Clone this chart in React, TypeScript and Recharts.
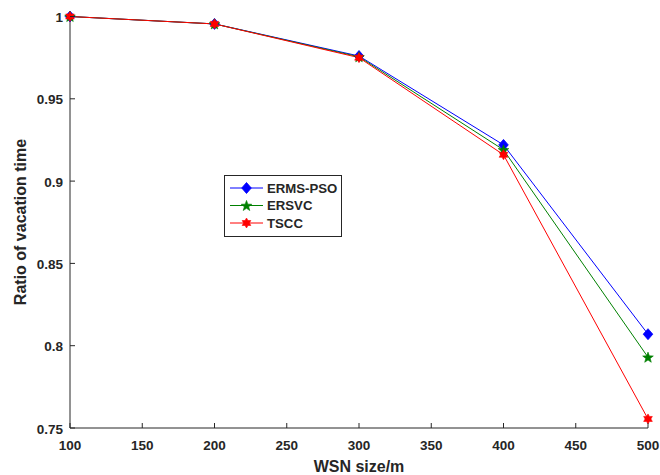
import React from 'react';
import { LineChart, Line, XAxis, YAxis, Legend } from 'recharts';

const wsnSizes = [100, 200, 300, 400, 500];
const ermsPso = [1.0, 0.9955, 0.976, 0.922, 0.807];
const ersvc = [1.0, 0.9955, 0.9755, 0.919, 0.793];
const tscc = [1.0, 0.9955, 0.975, 0.916, 0.7555];

const xTicks = [100, 150, 200, 250, 300, 350, 400, 450, 500];
const yTicks = [0.75, 0.8, 0.85, 0.9, 0.95, 1];

const seriesNames = ['ERMS-PSO', 'ERSVC', 'TSCC'];
const seriesColors = ['#0000ff', '#008000', '#ff0000'];
const seriesShapes = ['diamond', 'pentagram', 'hexagram'];
const seriesKeys = ['ermsPso', 'ersvc', 'tscc'];

const data = wsnSizes.map((x, i) => ({
  x,
  ermsPso: ermsPso[i],
  ersvc: ersvc[i],
  tscc: tscc[i],
}));

const FONT = '"Liberation Sans", Arial, Helvetica, sans-serif';
const INK = '#262626';

function starPoints(cx: number, cy: number, n: number, ro: number, ri: number) {
  const pts: string[] = [];
  for (let k = 0; k < 2 * n; k++) {
    const r = k % 2 === 0 ? ro : ri;
    const a = -Math.PI / 2 + (k * Math.PI) / n;
    pts.push(`${cx + r * Math.cos(a)},${cy + r * Math.sin(a)}`);
  }
  return pts.join(' ');
}

function Marker({ cx, cy, shape, color }: { cx: number; cy: number; shape: string; color: string }) {
  if (cx == null || cy == null) return null;
  if (shape === 'diamond') {
    const pts = `${cx},${cy - 5.5} ${cx + 4.8},${cy} ${cx},${cy + 5.5} ${cx - 4.8},${cy}`;
    return <polygon points={pts} fill={color} stroke={color} strokeWidth={0.8} />;
  }
  if (shape === 'pentagram') {
    return <polygon points={starPoints(cx, cy + 0.5, 5, 5.6, 2.3)} fill={color} stroke={color} strokeWidth={0.6} />;
  }
  return <polygon points={starPoints(cx, cy, 6, 5, 2.9)} fill={color} stroke={color} strokeWidth={0.6} />;
}

const BottomTick = (props: any) => {
  const { x, y, payload } = props;
  return (
    <g>
      <line x1={x} y1={y} x2={x} y2={y - 5} stroke={INK} strokeWidth={1} />
      <text x={x} y={y + 22} textAnchor="middle" fontFamily={FONT} fontWeight="bold" fontSize={13.5} fill={INK}>
        {payload.value}
      </text>
    </g>
  );
};

const TopTick = (props: any) => {
  const { x, y } = props;
  return <line x1={x} y1={y} x2={x} y2={y + 5} stroke={INK} strokeWidth={1} />;
};

const fmtY = (v: number) => String(+v.toFixed(2));

const LeftTick = (props: any) => {
  const { x, y, payload } = props;
  return (
    <g>
      <line x1={x} y1={y} x2={x + 5} y2={y} stroke={INK} strokeWidth={1} />
      <text x={x - 7} y={y + 5.5} textAnchor="end" fontFamily={FONT} fontWeight="bold" fontSize={13.5} fill={INK}>
        {fmtY(payload.value)}
      </text>
    </g>
  );
};

const RightTick = (props: any) => {
  const { x, y } = props;
  return <line x1={x} y1={y} x2={x - 5} y2={y} stroke={INK} strokeWidth={1} />;
};

const LegendBox = () => (
  <svg width={118} height={62} style={{ display: 'block' }}>
    <rect x={0.5} y={0.5} width={117} height={61} fill="#ffffff" stroke={INK} strokeWidth={1} />
    {seriesNames.map((name, i) => {
      const cy = 13 + i * 17.5;
      return (
        <g key={name}>
          <line x1={6} y1={cy} x2={39} y2={cy} stroke={seriesColors[i]} strokeWidth={1} />
          <Marker cx={22.5} cy={cy} shape={seriesShapes[i]} color={seriesColors[i]} />
          <text x={43} y={cy + 4.7} fontFamily={FONT} fontWeight="bold" fontSize={13.2} fill={INK}>
            {name}
          </text>
        </g>
      );
    })}
  </svg>
);

export default function App() {
  return (
    <div style={{ position: 'absolute', left: 0, top: 0, width: 660, height: 475, background: '#fff' }}>
      <LineChart width={660} height={475} data={data} margin={{ top: 16.5, right: 12, left: 0, bottom: 0 }}>
        <XAxis
          xAxisId="b"
          dataKey="x"
          type="number"
          domain={[100, 500]}
          ticks={xTicks}
          interval={0}
          orientation="bottom"
          height={47}
          tickSize={0}
          tickMargin={0}
          tickLine={false}
          axisLine={{ stroke: INK, strokeWidth: 1 }}
          tick={<BottomTick />}
          label={() => (
            <text x={359} y={472} textAnchor="middle" fontFamily={FONT} fontWeight="bold" fontSize={16} fill={INK}>
              WSN size/m
            </text>
          )}
        />
        <XAxis
          xAxisId="t"
          dataKey="x"
          type="number"
          domain={[100, 500]}
          ticks={xTicks}
          interval={0}
          orientation="top"
          height={0}
          tickSize={0}
          tickMargin={0}
          tickLine={false}
          axisLine={{ stroke: INK, strokeWidth: 1 }}
          tick={<TopTick />}
        />
        <YAxis
          yAxisId="l"
          type="number"
          domain={[0.75, 1]}
          ticks={yTicks}
          interval={0}
          orientation="left"
          width={70}
          tickSize={0}
          tickMargin={0}
          tickLine={false}
          axisLine={{ stroke: INK, strokeWidth: 1 }}
          tick={<LeftTick />}
          label={() => (
            <text
              x={26}
              y={222}
              transform="rotate(-90, 26, 222)"
              textAnchor="middle"
              fontFamily={FONT}
              fontWeight="bold"
              fontSize={16}
              fill={INK}
            >
              Ratio of vacation time
            </text>
          )}
        />
        <YAxis
          yAxisId="r"
          type="number"
          domain={[0.75, 1]}
          ticks={yTicks}
          interval={0}
          orientation="right"
          width={0}
          tickSize={0}
          tickMargin={0}
          tickLine={false}
          axisLine={{ stroke: INK, strokeWidth: 1 }}
          tick={<RightTick />}
        />
        <Legend
          layout="vertical"
          verticalAlign="middle"
          align="center"
          wrapperStyle={{ left: 224, top: 175, width: 118, height: 62 }}
          content={() => <LegendBox />}
        />
        {seriesKeys.map((k, i) => (
          <Line
            key={k}
            xAxisId="b"
            yAxisId="l"
            type="linear"
            dataKey={k}
            name={seriesNames[i]}
            stroke={seriesColors[i]}
            strokeWidth={1}
            isAnimationActive={false}
            dot={(p: any) => (
              <Marker key={`${k}-${p.index}`} cx={p.cx} cy={p.cy} shape={seriesShapes[i]} color={seriesColors[i]} />
            )}
            activeDot={false}
          />
        ))}
      </LineChart>
    </div>
  );
}
